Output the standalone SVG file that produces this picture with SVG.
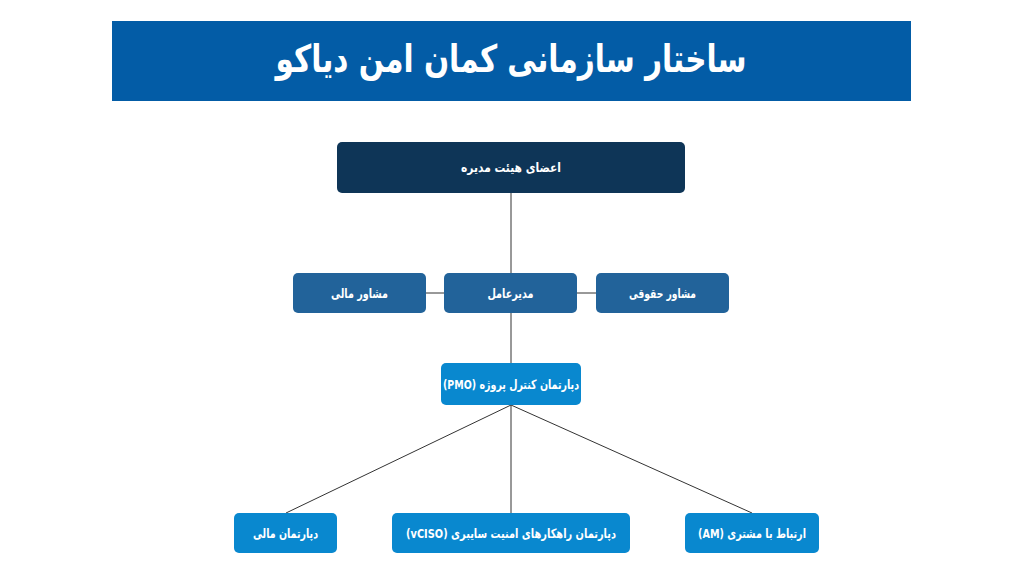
<svg xmlns="http://www.w3.org/2000/svg" width="1024" height="576" viewBox="0 0 1024 576">
<style>
.t{font-family:"DejaVu Sans Condensed","DejaVu Sans",sans-serif;font-stretch:condensed;font-weight:bold;fill:#fff;text-anchor:middle;dominant-baseline:central;direction:rtl;unicode-bidi:embed}
.n{font-size:13px}
.c{stroke:#333;stroke-width:1;fill:none}
</style>
<rect width="1024" height="576" fill="#fff"/>
<g id="title">
<rect x="112" y="21" width="799" height="80" fill="#035ca6"/>
<text class="t" x="511" y="59" font-size="38" textLength="471" lengthAdjust="spacingAndGlyphs">ساختار سازمانی کمان امن دیاکو</text>
</g>
<g id="connectors">
<line class="c" x1="511" y1="193" x2="511" y2="273"/>
<line class="c" x1="511" y1="313" x2="511" y2="363"/>
<line class="c" x1="426" y1="293" x2="444" y2="293"/>
<line class="c" x1="577" y1="293" x2="596" y2="293"/>
<line class="c" x1="511" y1="405" x2="286" y2="513"/>
<line class="c" x1="511" y1="405" x2="511" y2="513"/>
<line class="c" x1="511" y1="405" x2="752" y2="513"/>
</g>
<g id="board">
<rect x="337" y="142" width="348" height="51" rx="5" fill="#0e3557"/>
<text class="t n" x="511" y="167" textLength="100" lengthAdjust="spacingAndGlyphs">اعضای هیئت مدیره</text>
</g>
<g id="fin-advisor">
<rect x="293" y="273" width="133" height="40" rx="5" fill="#22639a"/>
<text class="t n" x="359.5" y="293" textLength="57" lengthAdjust="spacingAndGlyphs">مشاور مالی</text>
</g>
<g id="ceo">
<rect x="444" y="273" width="133" height="40" rx="5" fill="#22639a"/>
<text class="t n" x="510.5" y="293" textLength="46" lengthAdjust="spacingAndGlyphs">مدیرعامل</text>
</g>
<g id="legal-advisor">
<rect x="596" y="273" width="133" height="40" rx="5" fill="#22639a"/>
<text class="t n" x="662.5" y="293" textLength="67" lengthAdjust="spacingAndGlyphs">مشاور حقوقی</text>
</g>
<g id="pmo">
<rect x="441" y="363" width="140" height="42" rx="5" fill="#0988cf"/>
<text class="t n" x="511" y="384" textLength="136" lengthAdjust="spacingAndGlyphs">دپارتمان کنترل پروژه (PMO)</text>
</g>
<g id="finance">
<rect x="234" y="513" width="103" height="40" rx="5" fill="#0988cf"/>
<text class="t n" x="285.5" y="533" textLength="65" lengthAdjust="spacingAndGlyphs">دپارتمان مالی</text>
</g>
<g id="vciso">
<rect x="392" y="513" width="238" height="40" rx="5" fill="#0988cf"/>
<text class="t n" x="511" y="533" textLength="210" lengthAdjust="spacingAndGlyphs">دپارتمان راهکارهای امنیت سایبری (vCISO)</text>
</g>
<g id="am">
<rect x="685" y="513" width="134" height="40" rx="5" fill="#0988cf"/>
<text class="t n" x="752" y="533" textLength="108" lengthAdjust="spacingAndGlyphs">ارتباط با مشتری (AM)</text>
</g>
</svg>
